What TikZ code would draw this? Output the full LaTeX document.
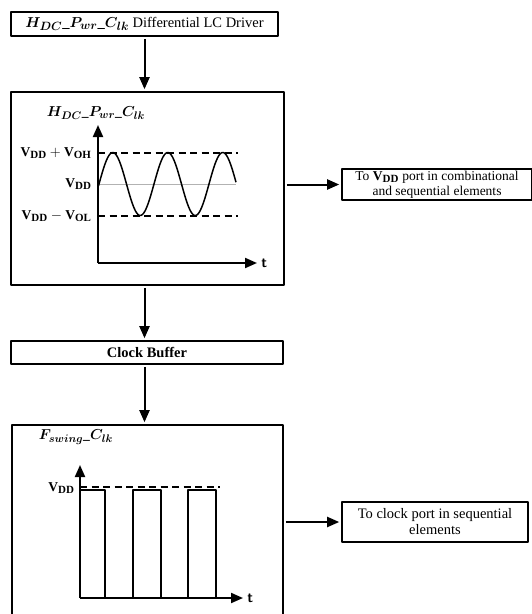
\documentclass[tikz,border=0pt]{standalone}
\usepackage{amsmath}
\usepackage{bm}
\usepackage{fontspec}
\setmainfont{Liberation Serif}
\usetikzlibrary{arrows.meta}
\DeclareMathSizes{14.5}{14.5}{11.5}{9}
\DeclareMathSizes{13.5}{13.5}{11}{9}
\newcommand{\hdclk}{$\bm{H_{DC}}$\textbf{\_}$\bm{P_{wr}}$\textbf{\_}$\bm{C_{lk}}$}
\newcommand{\fswclk}{$\bm{F_{swing}}$\textbf{\_}$\bm{C_{lk}}$}
\begin{document}
\begin{tikzpicture}[x=1pt, y=-1pt, font=\fontsize{14.5}{16}\selectfont, line join=round, >={Triangle[length=12pt,width=10pt]},
	box/.style={draw, line width=1.6pt, inner sep=2pt},
	link/.style={->, line width=2pt, shorten <=2pt, shorten >=2pt},
	axis/.style={->, line width=2pt},
	lvl/.style={line width=1.6pt, dash pattern=on 7pt off 4.5pt},
	mlab/.style={font=\fontsize{13.5}{15}\selectfont}]
	\def\vdd{184} \def\voh{153} \def\vol{216}
	\def\vtop{490} \def\gnd{598}
	\useasboundingbox (0,0) rectangle (531,614);
	% blocks
	\node[box, minimum width=267pt, minimum height=24pt] (driver) at (144.5,24) {\hdclk{} Differential LC Driver};
	\node[box, minimum width=273pt, minimum height=193pt] (sinebox) at (147.5,188.5) {};
	\node[box, minimum width=272pt, minimum height=23pt] (buffer) at (147,352.5) {\textbf{Clock Buffer}};
	\node[box, minimum width=271pt, minimum height=215pt] (pulsebox) at (147.5,532.5) {};
	\node[box, minimum width=190pt, minimum height=31pt, inner sep=0pt, align=center, font=\fontsize{13.5}{15}\selectfont] (vddport) at (437,184.5) {To $\mathbf{V_{DD}}$ port in combinational\\and sequential elements};
	\node[box, minimum width=186pt, minimum height=40pt, align=center] (clkport) at (435,522) {To clock port in sequential\\elements};
	% connectors
	\draw[link] (driver.south) -- (driver.south |- sinebox.north);
	\draw[link] (sinebox.south -| driver.south) -- (buffer.north -| driver.south);
	\draw[link] (buffer.south -| driver.south) -- (pulsebox.north -| driver.south);
	\draw[link] (sinebox.east |- vddport) -- (vddport.west);
	\draw[link] (pulsebox.east |- clkport) -- (clkport.west);
	% sine supply
	\node[mlab] (hlab) at (96,113) {\hdclk};
	\draw[axis] (98,263) -- (98,125);
	\draw[axis] (98,263) -- (257,263) node[right] (t1) {\sffamily\bfseries t};
	\draw[lvl] (98,\voh) -- (238,\voh);
	\draw[lvl] (98,\vol) -- (238,\vol);
	\draw[gray!60, line width=1pt] (98,\vdd) -- (236,\vdd);
	\draw[line width=1.5pt, domain=98.5:236, samples=120, smooth] plot (\x, {\vdd-31.5*sin(6.5455*(\x-99))});
	\node[mlab, left] (lvoh) at (95,\voh) {$\mathbf{V_{DD}+V_{OH}}$};
	\node[mlab, left] (lvdd) at (95,\vdd) {$\mathbf{V_{DD}}$};
	\node[mlab, left] (lvol) at (95,\vol) {$\mathbf{V_{DD}-V_{OL}}$};
	% clock pulses
	\node[mlab] (flab) at (76,437) {\fswclk};
	\draw[axis] (80,\gnd) -- (80,465);
	\draw[axis] (80,\gnd) -- (243,\gnd) node[right] (t2) {\sffamily\bfseries t};
	\draw[lvl] (80,487) -- (220,487);
	\draw[line width=1.5pt] (80,\vtop) -- (105,\vtop) -- (105,\gnd)
		(133,\gnd) -- (133,\vtop) -- (161,\vtop) -- (161,\gnd)
		(188,\gnd) -- (188,\vtop) -- (216,\vtop) -- (216,\gnd);
	\node[mlab, left] (pvdd) at (78,488) {$\mathbf{V_{DD}}$};
\end{tikzpicture}
\end{document}
